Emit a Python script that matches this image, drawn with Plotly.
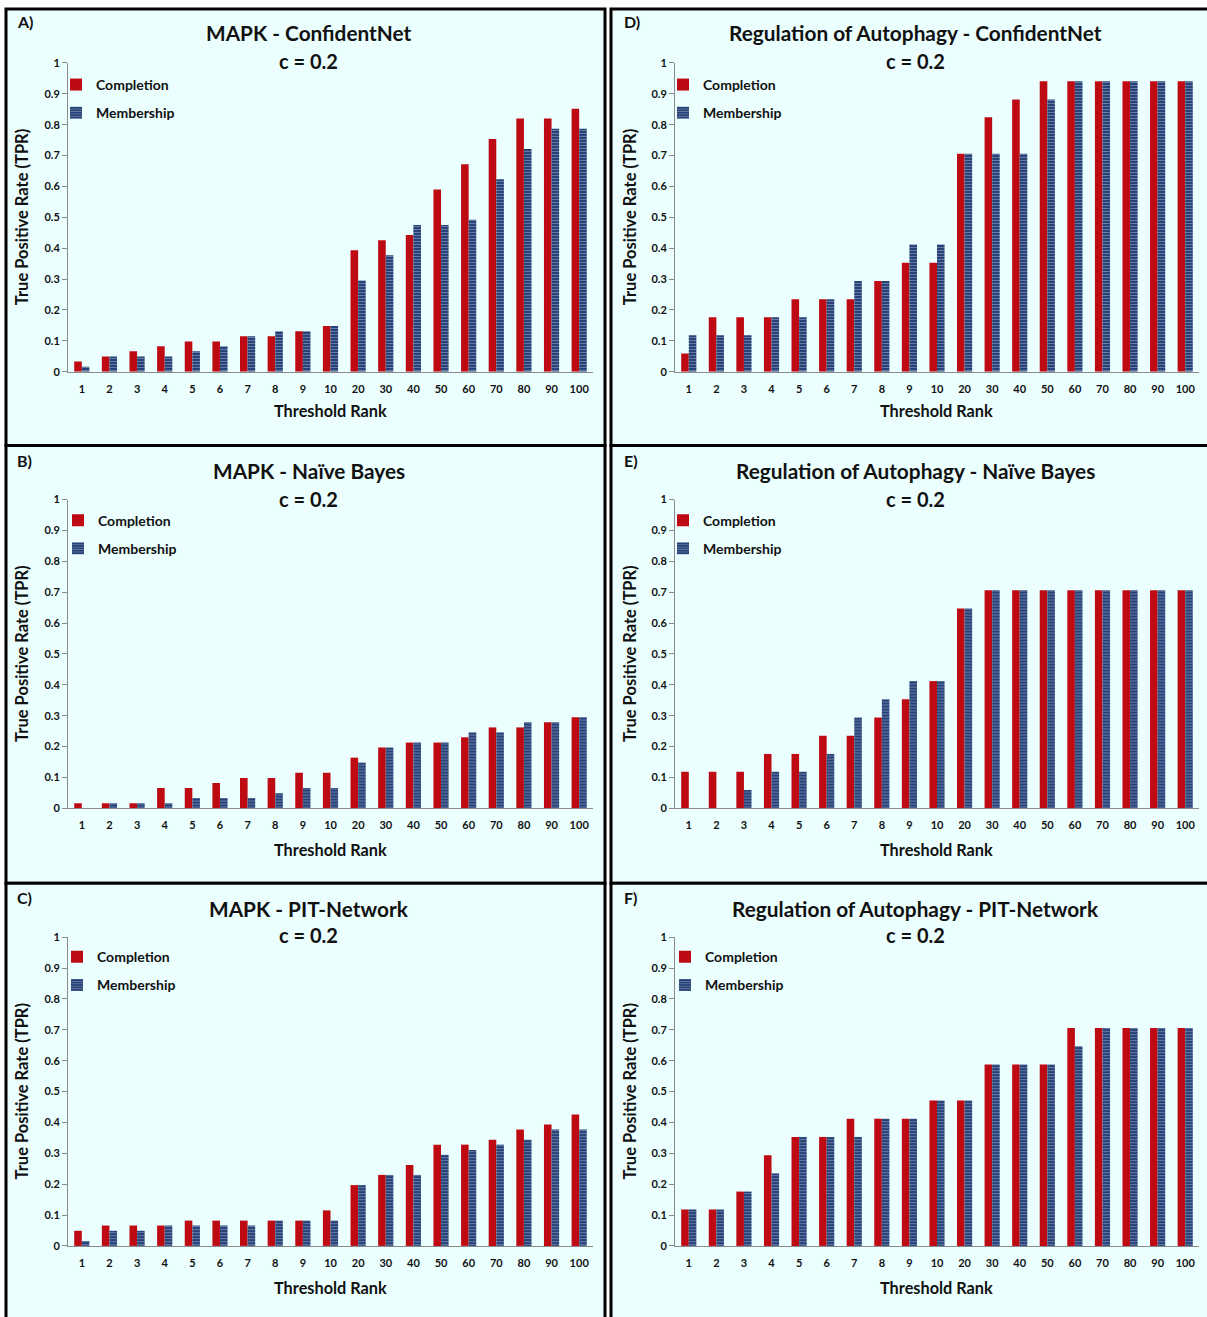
import plotly.graph_objects as go

W, H = 1207, 1317

# ---------------- data ----------------
threshold_ranks = ["1", "2", "3", "4", "5", "6", "7", "8", "9", "10",
                   "20", "30", "40", "50", "60", "70", "80", "90", "100"]
y_tick_values = [0, 0.1, 0.2, 0.3, 0.4, 0.5, 0.6, 0.7, 0.8, 0.9, 1]
y_tick_labels = ["0", "0.1", "0.2", "0.3", "0.4", "0.5", "0.6", "0.7", "0.8", "0.9", "1"]

mapk_confidentnet_completion = [0.033, 0.049, 0.066, 0.082, 0.098, 0.098, 0.115, 0.115, 0.131, 0.148,
                                0.393, 0.426, 0.443, 0.590, 0.672, 0.754, 0.820, 0.820, 0.852]
mapk_confidentnet_membership = [0.016, 0.049, 0.049, 0.049, 0.066, 0.082, 0.115, 0.131, 0.131, 0.148,
                                0.295, 0.377, 0.475, 0.475, 0.492, 0.623, 0.721, 0.787, 0.787]

mapk_naivebayes_completion = [0.016, 0.016, 0.016, 0.066, 0.066, 0.082, 0.098, 0.098, 0.115, 0.115,
                              0.164, 0.197, 0.213, 0.213, 0.230, 0.262, 0.262, 0.279, 0.295]
mapk_naivebayes_membership = [0.0, 0.016, 0.016, 0.016, 0.033, 0.033, 0.033, 0.049, 0.066, 0.066,
                              0.148, 0.197, 0.213, 0.213, 0.246, 0.246, 0.279, 0.279, 0.295]

mapk_pitnetwork_completion = [0.049, 0.066, 0.066, 0.066, 0.082, 0.082, 0.082, 0.082, 0.082, 0.115,
                              0.197, 0.230, 0.262, 0.328, 0.328, 0.344, 0.377, 0.393, 0.426]
mapk_pitnetwork_membership = [0.016, 0.049, 0.049, 0.066, 0.066, 0.066, 0.066, 0.082, 0.082, 0.082,
                              0.197, 0.230, 0.230, 0.295, 0.311, 0.328, 0.344, 0.377, 0.377]

autophagy_confidentnet_completion = [0.059, 0.176, 0.176, 0.176, 0.235, 0.235, 0.235, 0.294, 0.353, 0.353,
                                     0.706, 0.824, 0.882, 0.941, 0.941, 0.941, 0.941, 0.941, 0.941]
autophagy_confidentnet_membership = [0.118, 0.118, 0.118, 0.176, 0.176, 0.235, 0.294, 0.294, 0.412, 0.412,
                                     0.706, 0.706, 0.706, 0.882, 0.941, 0.941, 0.941, 0.941, 0.941]

autophagy_naivebayes_completion = [0.118, 0.118, 0.118, 0.176, 0.176, 0.235, 0.235, 0.294, 0.353, 0.412,
                                   0.647, 0.706, 0.706, 0.706, 0.706, 0.706, 0.706, 0.706, 0.706]
autophagy_naivebayes_membership = [0.0, 0.0, 0.059, 0.118, 0.118, 0.176, 0.294, 0.353, 0.412, 0.412,
                                   0.647, 0.706, 0.706, 0.706, 0.706, 0.706, 0.706, 0.706, 0.706]

autophagy_pitnetwork_completion = [0.118, 0.118, 0.176, 0.294, 0.353, 0.353, 0.412, 0.412, 0.412, 0.471,
                                   0.471, 0.588, 0.588, 0.588, 0.706, 0.706, 0.706, 0.706, 0.706]
autophagy_pitnetwork_membership = [0.118, 0.118, 0.176, 0.235, 0.353, 0.353, 0.353, 0.412, 0.412, 0.471,
                                   0.471, 0.588, 0.588, 0.588, 0.647, 0.706, 0.706, 0.706, 0.706]

series_names = ["Completion", "Membership"]
panel_letters = ["A)", "B)", "C)", "D)", "E)", "F)"]
panel_titles = ["MAPK - ConfidentNet", "MAPK - Naïve Bayes", "MAPK - PIT-Network",
                "Regulation of Autophagy - ConfidentNet",
                "Regulation of Autophagy - Naïve Bayes",
                "Regulation of Autophagy - PIT-Network"]
subtitle_text = "c = 0.2"
x_title = "Threshold Rank"
y_title = "True Positive Rate (TPR)"

panel_series = [
    (mapk_confidentnet_completion, mapk_confidentnet_membership),
    (mapk_naivebayes_completion, mapk_naivebayes_membership),
    (mapk_pitnetwork_completion, mapk_pitnetwork_membership),
    (autophagy_confidentnet_completion, autophagy_confidentnet_membership),
    (autophagy_naivebayes_completion, autophagy_naivebayes_membership),
    (autophagy_pitnetwork_completion, autophagy_pitnetwork_membership),
]

# ---------------- styling / layout ----------------
FONT = "Lato, 'Open Sans', sans-serif"
RED = "#BE0A12"
NAVY = "#1E3A72"
STRIPE = "#B4C0D6"
BG = "#EBFFFF"
AXIS = "#8A8A8A"

# small vertical calibration of the photographed page
Y_OFF, Y_SCALE = 6.0, 0.991


def px_x(x):
    return x / W


def px_y(y):
    return 1 - ((y - Y_OFF) / Y_SCALE) / H


# pixel geometry (reference image coordinates) for each panel (col, row)
col_geom = [
    dict(rect=(6, 605), plot=(68, 593), center=309, letter=15, ytitle=22),
    dict(rect=(611, 1220), plot=(675, 1199), center=915, letter=622, ytitle=630),
]
row_geom = [
    dict(rect=(8, 445), plot=(62, 371), title=32, sub=60, letter=21, legend=68, xtitle=410),
    dict(rect=(445, 883), plot=(499, 808), title=470, sub=498, letter=460, legend=504, xtitle=849),
    dict(rect=(883, 1340), plot=(937, 1246), title=908, sub=935, letter=897, legend=941, xtitle=1288),
]
legend_x = [[56, 58, 57], [663, 663, 665]]

fig = go.Figure()
shapes = []
annotations = []
layout_extra = {}

for i in range(6):
    col, row = divmod(i, 3)
    cg, rg = col_geom[col], row_geom[row]
    n = i + 1
    xa = "x" if n == 1 else f"x{n}"
    ya = "y" if n == 1 else f"y{n}"
    leg = "legend" if n == 1 else f"legend{n}"
    comp, memb = panel_series[i]

    fig.add_trace(go.Bar(
        x=threshold_ranks, y=comp, name=series_names[0],
        marker=dict(color=RED, line=dict(width=0)),
        xaxis=xa, yaxis=ya, legend=leg, legendgroup=f"c{n}",
        showlegend=True,
    ))
    fig.add_trace(go.Bar(
        x=threshold_ranks, y=memb, name=series_names[1],
        marker=dict(color=NAVY, line=dict(width=0),
                    pattern=dict(shape="-", fillmode="overlay", bgcolor=NAVY,
                                 fgcolor=STRIPE, size=3, solidity=0.4)),
        xaxis=xa, yaxis=ya, legend=leg, legendgroup=f"m{n}",
        showlegend=True,
    ))

    xkey = "xaxis" if n == 1 else f"xaxis{n}"
    ykey = "yaxis" if n == 1 else f"yaxis{n}"
    layout_extra[xkey] = dict(
        domain=[px_x(cg["plot"][0]), px_x(cg["plot"][1])],
        anchor=ya, type="category", showline=True, linecolor=AXIS, linewidth=1,
        showgrid=False, zeroline=False, ticks="outside", ticklen=7,
        tickcolor="rgba(0,0,0,0)",
        tickfont=dict(family=FONT, size=11, color="#111", weight="bold"),
        fixedrange=True,
    )
    layout_extra[ykey] = dict(
        domain=[px_y(rg["plot"][1]), px_y(rg["plot"][0])],
        anchor=xa, range=[0, 1], tickvals=y_tick_values, ticktext=y_tick_labels,
        showline=True, linecolor=AXIS, linewidth=1, showgrid=False, zeroline=False,
        ticks="outside", ticklen=5, tickcolor=AXIS,
        tickfont=dict(family=FONT, size=11, color="#111", weight="bold"),
        fixedrange=True,
    )
    layout_extra[leg] = dict(
        x=px_x(legend_x[col][row]), y=px_y(rg["legend"]), xanchor="left", yanchor="top",
        xref="paper", yref="paper", bgcolor="rgba(0,0,0,0)", borderwidth=0,
        traceorder="grouped", tracegroupgap=7, itemwidth=30,
        font=dict(family=FONT, size=14, color="#111", weight="bold"),
    )

    # panel background + border
    shapes.append(dict(
        type="rect", xref="paper", yref="paper",
        x0=px_x(cg["rect"][0]), x1=px_x(cg["rect"][1]),
        y0=px_y(rg["rect"][1]), y1=px_y(rg["rect"][0]),
        fillcolor=BG, line=dict(color="black", width=3), layer="below",
    ))

    # texts
    annotations.append(dict(
        text=panel_titles[i], x=px_x(cg["center"]), y=px_y(rg["title"]),
        xref="paper", yref="paper", xanchor="center", yanchor="middle", showarrow=False,
        font=dict(family=FONT, size=20.8, color="#111", weight="bold"),
    ))
    annotations.append(dict(
        text=subtitle_text, x=px_x(cg["center"]), y=px_y(rg["sub"]),
        xref="paper", yref="paper", xanchor="center", yanchor="middle", showarrow=False,
        font=dict(family=FONT, size=20, color="#111", weight="bold"),
    ))
    annotations.append(dict(
        text=panel_letters[i], x=px_x(cg["letter"]), y=px_y(rg["letter"]),
        xref="paper", yref="paper", xanchor="left", yanchor="middle", showarrow=False,
        font=dict(family=FONT, size=16, color="#111", weight="bold"),
    ))
    annotations.append(dict(
        text=x_title, x=(px_x(cg["plot"][0]) + px_x(cg["plot"][1])) / 2, y=px_y(rg["xtitle"]),
        xref="paper", yref="paper", xanchor="center", yanchor="middle", showarrow=False,
        font=dict(family=FONT, size=16.3, color="#111", weight="bold"),
    ))
    annotations.append(dict(
        text=y_title, x=px_x(cg["ytitle"]), y=(px_y(rg["plot"][0]) + px_y(rg["plot"][1])) / 2,
        xref="paper", yref="paper", xanchor="center", yanchor="middle", showarrow=False,
        textangle=-90,
        font=dict(family=FONT, size=16.5, color="#111", weight="bold"),
    ))

fig.update_layout(
    width=W, height=H, autosize=False,
    margin=dict(l=0, r=0, t=0, b=0),
    paper_bgcolor="white", plot_bgcolor="rgba(0,0,0,0)",
    barmode="group", bargap=0.45, bargroupgap=0,
    shapes=shapes, annotations=annotations,
    font=dict(family=FONT),
    **layout_extra,
)

fig.write_html(
    "out.html",
    config={"displayModeBar": False},
    post_script="document.body.style.margin='0';document.body.style.padding='0';"
                "document.documentElement.style.overflow='hidden';",
)
